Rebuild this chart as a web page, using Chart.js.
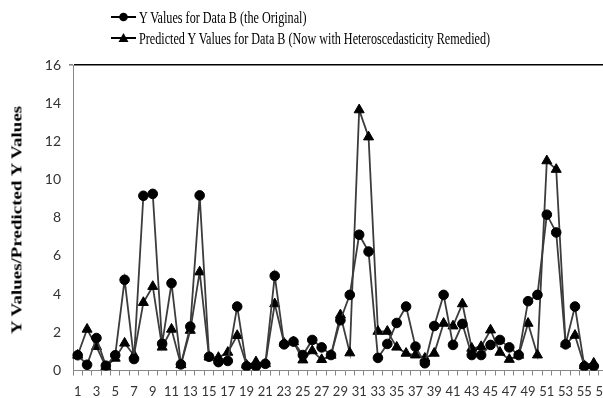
<!DOCTYPE html>
<html>
<head>
<meta charset="utf-8">
<script src="https://cdn.jsdelivr.net/npm/chart.js@4.4.1/dist/chart.umd.min.js"></script>
<style>
	html, body { margin: 0; padding: 0; background: #fff; overflow: hidden; }
	#wrap { position: relative; width: 603px; height: 398px; overflow: hidden; }
	#chart { position: absolute; left: 0; top: 0; }
	#legend {
		position: absolute; left: 111px; top: 7px;
		font-family: "Liberation Serif", "Times New Roman", serif;
		font-size: 16px; color: #000;
	}
	.item { position: relative; height: 21px; white-space: nowrap; }
	.item svg { position: absolute; left: 0; top: 4px; }
	.item span {
		position: absolute; left: 28px; top: 1px; line-height: 19px;
		transform: scaleX(0.76); transform-origin: left top;
	}
	#ytitle {
		position: absolute; left: 17px; top: 220px; white-space: nowrap;
		font-family: "Liberation Serif", "Times New Roman", serif;
		font-size: 19px; font-weight: bold; color: #000; line-height: 20px;
		transform: translate(-50%, -50%) rotate(-90deg) scaleY(0.78);
	}
</style>
</head>
<body>
<div id="wrap">
	<canvas id="chart" width="624" height="398"></canvas>
	<div id="legend"></div>
	<div id="ytitle"></div>
</div>
<script>
const categories = [
	"1", "2", "3", "4", "5", "6", "7", "8", "9", "10",
	"11", "12", "13", "14", "15", "16", "17", "18", "19", "20",
	"21", "22", "23", "24", "25", "26", "27", "28", "29", "30",
	"31", "32", "33", "34", "35", "36", "37", "38", "39", "40",
	"41", "42", "43", "44", "45", "46", "47", "48", "49", "50",
	"51", "52", "53", "54", "55", "56", "57", "58",
];

const seriesNames = [
	"Y Values for Data B (the Original)",
	"Predicted Y Values for Data B (Now with Heteroscedasticity Remedied)",
];
const yTitle = "Y Values/Predicted Y Values";

const originalY = [
	0.8, 0.3, 1.7, 0.25, 0.8, 4.75, 0.6, 9.15, 9.25, 1.4,
	4.57, 0.32, 2.3, 9.17, 0.72, 0.44, 0.5, 3.35, 0.22, 0.22,
	0.35, 4.96, 1.37, 1.51, 0.81, 1.6, 1.21, 0.81, 2.63, 3.96,
	7.11, 6.23, 0.66, 1.39, 2.49, 3.35, 1.25, 0.38, 2.33, 3.96,
	1.34, 2.44, 0.81, 0.81, 1.34, 1.6, 1.21, 0.81, 3.63, 3.96,
	8.16, 7.23, 1.37, 3.35, 0.22, 0.22,
];

const predictedY = [
	0.8, 2.16, 1.25, 0.2, 0.64, 1.43, 0.8, 3.56, 4.4, 1.22,
	2.16, 0.3, 2.1, 5.16, 0.7, 0.68, 0.95, 1.83, 0.28, 0.45,
	0.35, 3.49, 1.43, 1.5, 0.55, 1.03, 0.57, 0.8, 2.91, 0.92,
	13.65, 12.23, 2.05, 2.05, 1.22, 0.9, 0.81, 0.64, 0.9, 2.47,
	2.33, 3.49, 1.16, 1.25, 2.12, 0.95, 0.58, 0.8, 2.47, 0.81,
	10.98, 10.53, 1.39, 1.84, 0.25, 0.38,
];

const yTicks = { min: 0, max: 16, step: 2 };

const markers = ["circle", "triangle"];
const markerRadius = [4.8, 5.8];

// legend and axis title as plain html, the image was squeezed sideways
const legendEl = document.getElementById("legend");
seriesNames.forEach((name, i) => {
	const mark = markers[i] === "circle"
		? '<circle cx="12.5" cy="6" r="4.3" fill="#000"/>'
		: '<polygon points="12.5,1 17.5,10 7.5,10" fill="#000"/>';
	legendEl.insertAdjacentHTML("beforeend",
		'<div class="item"><svg width="25" height="12"><line x1="0" y1="6" x2="25" y2="6" stroke="#000" stroke-width="2"/>' +
		mark + '</svg><span>' + name + '</span></div>');
});
document.getElementById("ytitle").textContent = yTitle;

const axisGrey = "#868686";

new Chart(document.getElementById("chart"), {
	type: "line",
	data: {
		labels: categories,
		datasets: [
			{
				label: seriesNames[0],
				data: originalY,
				borderColor: "#3c3c3c",
				borderWidth: 1.8,
				pointStyle: markers[0],
				pointRadius: markerRadius[0],
				pointBackgroundColor: "#000",
				pointBorderColor: "#000",
				pointBorderWidth: 1,
				tension: 0,
			},
			{
				label: seriesNames[1],
				data: predictedY,
				borderColor: "#3c3c3c",
				borderWidth: 1.8,
				pointStyle: markers[1],
				pointRadius: markerRadius[1],
				pointBackgroundColor: "#000",
				pointBorderColor: "#000",
				pointBorderWidth: 1,
				tension: 0,
			},
		],
	},
	options: {
		responsive: false,
		animation: false,
		devicePixelRatio: 1,
		layout: { padding: { top: 65, left: 0, right: 0, bottom: 0 } },
		plugins: {
			legend: { display: false },
			tooltip: { enabled: false },
		},
		scales: {
			x: {
				offset: true,
				grid: {
					offset: true,
					drawOnChartArea: false,
					drawTicks: true,
					tickLength: 5,
					tickColor: axisGrey,
				},
				border: { color: axisGrey, width: 1 },
				ticks: {
					autoSkip: false,
					maxRotation: 0,
					padding: 9,
					color: "#333",
					font: { family: "Lato, 'Liberation Sans', sans-serif", size: 13 },
					callback: (value, index) => (index % 2 === 0 ? categories[index] : ""),
				},
				afterFit: (scale) => { scale.height = 27.5; },
			},
			y: {
				min: yTicks.min,
				max: yTicks.max,
				grid: {
					color: (ctx) => (ctx.tick && ctx.tick.value === yTicks.max ? "#000" : "rgba(0,0,0,0)"),
					lineWidth: (ctx) => (ctx.tick && ctx.tick.value === yTicks.max ? 1.6 : 0),
					drawTicks: true,
					tickLength: 4,
					tickColor: axisGrey,
				},
				border: { color: axisGrey, width: 1 },
				ticks: {
					stepSize: yTicks.step,
					padding: 8,
					color: "#333",
					font: { family: "Lato, 'Liberation Sans', sans-serif", size: 14 },
				},
				title: { display: false },
				afterFit: (scale) => { scale.width = 73; },
			},
		},
	},
});
</script>
</body>
</html>
